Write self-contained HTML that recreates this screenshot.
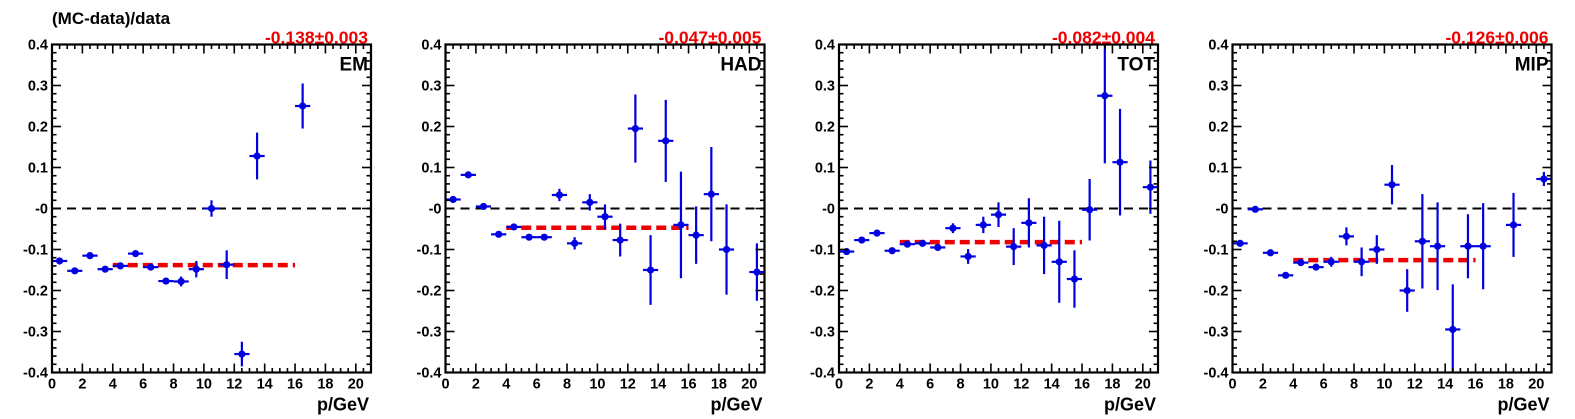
<!DOCTYPE html>
<html><head><meta charset="utf-8"><style>
body{margin:0;background:#fff;}
svg{display:block;font-family:"Liberation Sans",Arial,sans-serif;font-weight:bold;}
</style></head><body>
<svg id="s" width="1575" height="419" xmlns="http://www.w3.org/2000/svg">
<text x="52" y="24" font-size="17">(MC-data)/data</text>
</svg>
<script>
const P=[
{lab:"EM",fit:-0.138,fs:"-0.138±0.003",d:[[0.5,-0.128,0],[1.5,-0.152,0],[2.5,-0.115,0],[3.5,-0.148,0],[4.5,-0.14,0],[5.5,-0.11,0],[6.5,-0.143,0],[7.5,-0.177,0.006],[8.5,-0.178,0.012],[9.5,-0.148,0.02],[10.5,0,0.02],[11.5,-0.137,0.035],[12.5,-0.355,0.03],[13.5,0.128,0.057],[16.5,0.25,0.055]]},
{lab:"HAD",fit:-0.047,fs:"-0.047±0.005",d:[[0.5,0.022,0],[1.5,0.082,0],[2.5,0.005,0],[3.5,-0.063,0],[4.5,-0.045,0],[5.5,-0.07,0],[6.5,-0.07,0],[7.5,0.033,0.015],[8.5,-0.085,0.015],[9.5,0.015,0.02],[10.5,-0.02,0.03],[11.5,-0.077,0.04],[12.5,0.195,0.083],[13.5,-0.15,0.085],[14.5,0.165,0.1],[15.5,-0.04,0.13],[16.5,-0.065,0.07],[17.5,0.035,0.115],[18.5,-0.1,0.11],[20.5,-0.155,0.07]]},
{lab:"TOT",fit:-0.082,fs:"-0.082±0.004",d:[[0.5,-0.105,0],[1.5,-0.077,0],[2.5,-0.06,0],[3.5,-0.103,0],[4.5,-0.087,0],[5.5,-0.085,0],[6.5,-0.095,0],[7.5,-0.048,0.012],[8.5,-0.117,0.018],[9.5,-0.04,0.02],[10.5,-0.015,0.03],[11.5,-0.093,0.045],[12.5,-0.035,0.06],[13.5,-0.09,0.07],[14.5,-0.13,0.1],[15.5,-0.172,0.07],[16.5,-0.003,0.075],[17.5,0.275,0.165],[18.5,0.113,0.13],[20.5,0.052,0.065]]},
{lab:"MIP",fit:-0.126,fs:"-0.126±0.006",d:[[0.5,-0.085,0],[1.5,-0.002,0],[2.5,-0.108,0],[3.5,-0.163,0],[4.5,-0.132,0],[5.5,-0.143,0],[6.5,-0.13,0.012],[7.5,-0.068,0.022],[8.5,-0.13,0.035],[9.5,-0.1,0.035],[10.5,0.058,0.048],[11.5,-0.2,0.052],[12.5,-0.08,0.115],[13.5,-0.092,0.107],[14.5,-0.295,0.11],[15.5,-0.092,0.078],[16.5,-0.092,0.105],[18.5,-0.04,0.078],[20.5,0.072,0.017]]}];
let h="";
const T=44.5,B=372.5,W=319,XM=21;
P.forEach((p,k)=>{
 const L=52+393.5*k,R=L+W;
 const X=v=>L+v*W/XM, Y=v=>T+(0.4-v)*(B-T)/0.8;
 h+=`<svg x="${L}" y="${T}" width="${W}" height="${B-T}" overflow="hidden"><g transform="translate(${-L},${-T})">`;
 h+=`<line x1="${L}" x2="${R}" y1="${Y(0)}" y2="${Y(0)}" stroke="#000" stroke-width="2" stroke-dasharray="9,6"/>`;
 h+=`<line x1="${X(4)}" x2="${X(16)}" y1="${Y(p.fit)}" y2="${Y(p.fit)}" stroke="#e00" stroke-width="4.5" stroke-dasharray="10,5"/>`;
 p.d.forEach(([x,y,e])=>{
  h+=`<line x1="${X(x-0.5)}" x2="${X(x+0.5)}" y1="${Y(y)}" y2="${Y(y)}" stroke="#0000e0" stroke-width="2.2"/>`;
  if(e>0)h+=`<line x1="${X(x)}" x2="${X(x)}" y1="${Y(y-e)}" y2="${Y(y+e)}" stroke="#0000e0" stroke-width="2.2"/>`;
  h+=`<circle cx="${X(x)}" cy="${Y(y)}" r="3.6" fill="#0000e0"/>`;
 });
 h+=`</g></svg>`;
 h+=`<rect x="${L}" y="${T}" width="${W}" height="${B-T}" fill="none" stroke="#000" stroke-width="2.2"/>`;
 for(let i=0;i<=40;i++){const v=-0.4+i*0.02,y=Y(v),len=i%5==0?9:4.5;
  h+=`<line x1="${L}" x2="${L+len}" y1="${y}" y2="${y}" stroke="#000" stroke-width="1.6"/><line x1="${R}" x2="${R-len}" y1="${y}" y2="${y}" stroke="#000" stroke-width="1.6"/>`;
  if(i%5==0){const t=Math.round(v*10)/10;const s=t==0?"-0":(t>0?t.toFixed(1):"-"+(-t).toFixed(1));
   h+=`<text x="${L-4}" y="${y+5}" font-size="14.5" text-anchor="end">${s}</text>`;}}
 for(let i=0;i<=42;i++){const v=i*0.5,x=X(v),len=i%4==0?9:4.5;
  h+=`<line x1="${x}" x2="${x}" y1="${B}" y2="${B-len}" stroke="#000" stroke-width="1.6"/><line x1="${x}" x2="${x}" y1="${T}" y2="${T+len}" stroke="#000" stroke-width="1.6"/>`;
  if(i%4==0)h+=`<text x="${x}" y="${B+16}" font-size="14.5" text-anchor="middle">${v}</text>`;}
 h+=`<text x="${R-3}" y="${T+26}" font-size="19" text-anchor="end">${p.lab}</text>`;
 h+=`<text x="${R-3}" y="${T-1}" font-size="17.5" fill="#e00" text-anchor="end">${p.fs}</text>`;
 h+=`<text x="${R-2}" y="${B+38}" font-size="18" text-anchor="end">p/GeV</text>`;
});
document.getElementById("s").insertAdjacentHTML("beforeend",h);
</script>
</body></html>
